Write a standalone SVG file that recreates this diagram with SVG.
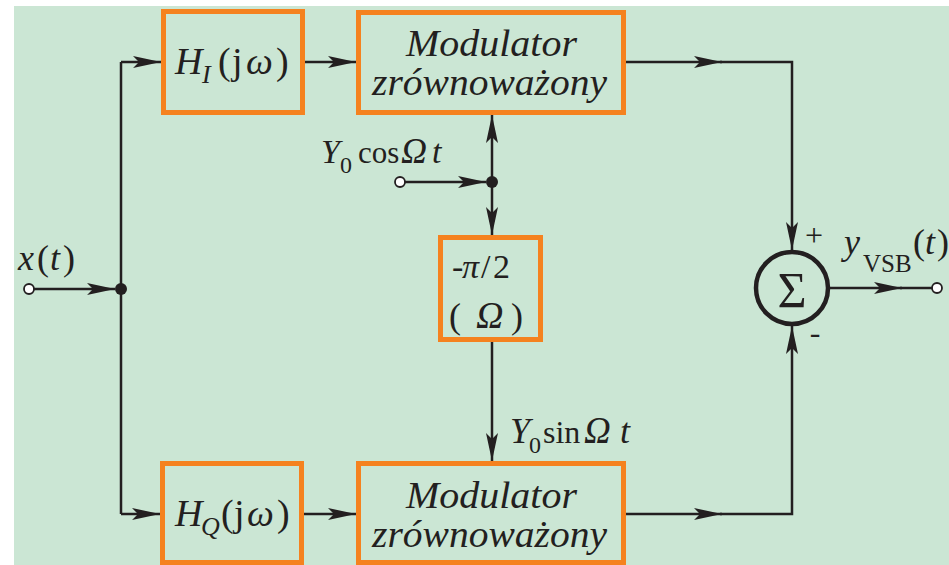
<svg xmlns="http://www.w3.org/2000/svg" width="949" height="565" viewBox="0 0 949 565">
<style>
.bg{fill:#cbe6d4}
.box{fill:none;stroke:#f5821f;stroke-width:5}
.ln{fill:none;stroke:#231f20;stroke-width:2.5}
.t{font-family:"Liberation Serif","Times New Roman",serif;fill:#231f20}
.i{font-style:italic}
.dot{fill:#231f20}
.term{fill:#fff;stroke:#231f20;stroke-width:1.8}
</style>
<defs>
<marker id="ah" markerUnits="userSpaceOnUse" markerWidth="30" markerHeight="14" refX="28" refY="7" orient="auto">
<path d="M0,1 L28,7 L0,13 L6,7 Z" fill="#231f20"/>
</marker>
</defs>
<rect x="0" y="0" width="949" height="565" fill="#ffffff"/>
<rect class="bg" x="14" y="6" width="935" height="559"/>

<g id="connectors">
<path class="ln" d="M34,289 L115,289" marker-end="url(#ah)"/>
<path class="ln" d="M121,514 L121,62"/>
<path class="ln" d="M121,62 L161,62" marker-end="url(#ah)"/>
<path class="ln" d="M305,62 L356,62" marker-end="url(#ah)"/>
<path class="ln" d="M626,62 L722,62" marker-end="url(#ah)"/>
<path class="ln" d="M720,62 L792,62 L792,250" marker-end="url(#ah)"/>
<path class="ln" d="M121,514 L160,514" marker-end="url(#ah)"/>
<path class="ln" d="M304,514 L356,514" marker-end="url(#ah)"/>
<path class="ln" d="M625,514 L722,514" marker-end="url(#ah)"/>
<path class="ln" d="M720,514 L792,514 L792,326" marker-end="url(#ah)"/>
<path class="ln" d="M405,182 L486,182" marker-end="url(#ah)"/>
<path class="ln" d="M492,182 L492,115" marker-end="url(#ah)"/>
<path class="ln" d="M492,182 L492,235" marker-end="url(#ah)"/>
<path class="ln" d="M492,342 L492,461" marker-end="url(#ah)"/>
<path class="ln" d="M830,288 L902,288" marker-end="url(#ah)"/>
<path class="ln" d="M900,288 L932,288"/>
<circle class="dot" cx="121" cy="289" r="6"/>
<circle class="dot" cx="492" cy="182" r="6"/>
<circle class="term" cx="29" cy="289" r="5"/>
<circle class="term" cx="400" cy="182" r="5"/>
<circle class="term" cx="937" cy="288" r="5"/>
</g>

<g id="HI">
<rect class="box" x="163.5" y="11.5" width="139" height="101"/>
<text class="t" font-size="38" y="74"><tspan class="i" x="175">H</tspan><tspan class="i" x="202" y="83" font-size="26">I</tspan><tspan x="218" y="74">(</tspan><tspan x="232">j</tspan><tspan class="i" x="246">ω</tspan><tspan x="276">)</tspan></text>
</g>

<g id="MOD1">
<rect class="box" x="358.5" y="12.5" width="265" height="100"/>
<text class="t i" font-size="37" x="406" y="56" textLength="171" lengthAdjust="spacingAndGlyphs">Modulator</text>
<text class="t i" font-size="37" x="372" y="95" textLength="235" lengthAdjust="spacingAndGlyphs">zrównoważony</text>
</g>

<g id="PHASE">
<rect class="box" x="440.5" y="237.5" width="100" height="102"/>
<text class="t" font-size="34" y="278"><tspan x="452">-</tspan><tspan class="i" x="462">π</tspan><tspan x="481">/</tspan><tspan x="493">2</tspan></text>
<text class="t" font-size="36" y="328"><tspan x="449">(</tspan><tspan class="i" x="476" font-size="38">Ω</tspan><tspan x="511" font-size="36">)</tspan></text>
</g>

<g id="HQ">
<rect class="box" x="162.5" y="463.5" width="139" height="99"/>
<text class="t" font-size="38" y="526"><tspan class="i" x="175">H</tspan><tspan class="i" x="201" y="535" font-size="26">Q</tspan><tspan x="221" y="526">(</tspan><tspan x="234">j</tspan><tspan class="i" x="247">ω</tspan><tspan x="277">)</tspan></text>
</g>

<g id="MOD2">
<rect class="box" x="358.5" y="463.5" width="265" height="99"/>
<text class="t i" font-size="37" x="406" y="508" textLength="171" lengthAdjust="spacingAndGlyphs">Modulator</text>
<text class="t i" font-size="37" x="372" y="547" textLength="235" lengthAdjust="spacingAndGlyphs">zrównoważony</text>
</g>

<g id="SUM">
<circle cx="792" cy="288" r="36" fill="none" stroke="#231f20" stroke-width="4.5"/>
<text class="t" font-size="50" x="792" y="307" text-anchor="middle">Σ</text>
<text class="t" font-size="32" x="814" y="246" text-anchor="middle">+</text>
<text class="t" font-size="32" x="815" y="343" text-anchor="middle">-</text>
</g>

<g id="labels">
<text class="t" font-size="36" y="270"><tspan class="i" x="18">x</tspan><tspan x="37">(</tspan><tspan class="i" x="50">t</tspan><tspan x="63">)</tspan></text>
<text class="t" font-size="34" y="163"><tspan class="i" x="321">Y</tspan><tspan x="340" y="173" font-size="24">0</tspan><tspan x="358" y="163" font-size="31">cos</tspan><tspan class="i" x="401" font-size="36">Ω</tspan><tspan class="i" x="432" font-size="34">t</tspan></text>
<text class="t" font-size="36" y="443"><tspan class="i" x="510">Y</tspan><tspan x="529" y="453" font-size="24">0</tspan><tspan x="543" y="443" font-size="32">sin</tspan><tspan class="i" x="584" font-size="37">Ω</tspan><tspan class="i" x="620" font-size="36">t</tspan></text>
<text class="t" font-size="36" y="254"><tspan class="i" x="844">y</tspan><tspan x="863" y="272" font-size="25">VSB</tspan><tspan x="913" y="254">(</tspan><tspan class="i" x="925">t</tspan><tspan x="937">)</tspan></text>
</g>
</svg>
